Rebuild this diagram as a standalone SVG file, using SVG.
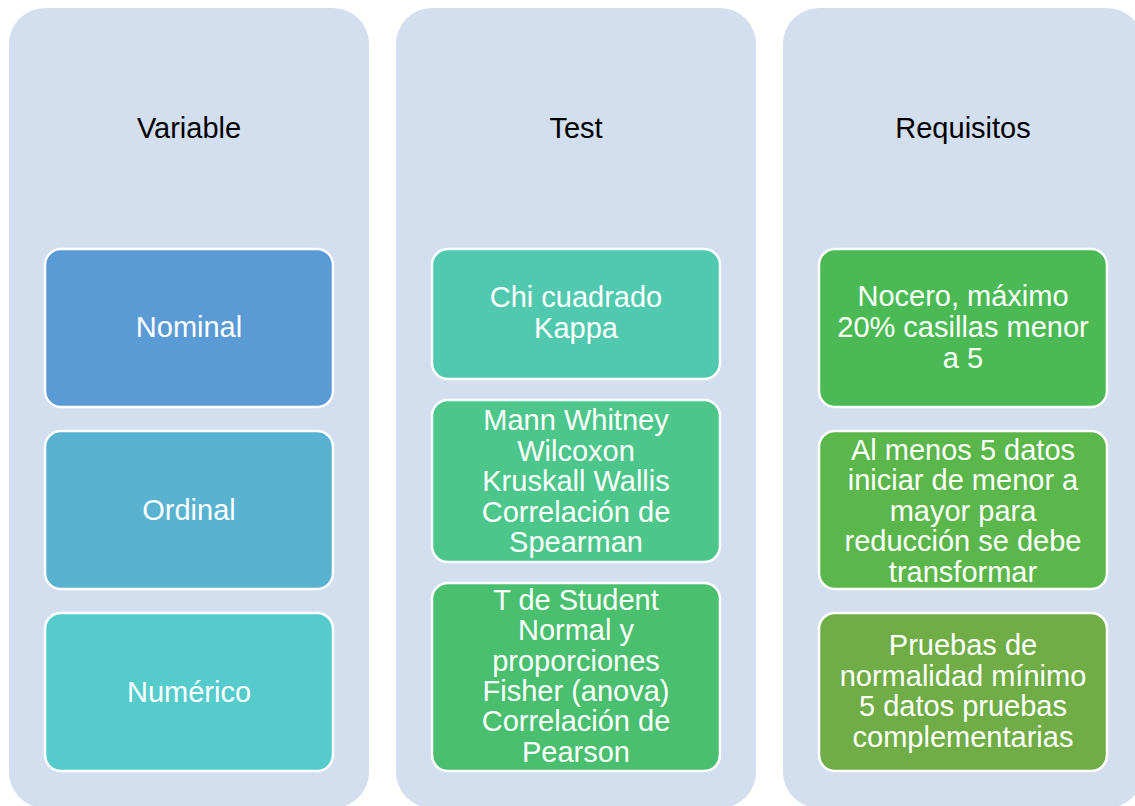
<svg xmlns="http://www.w3.org/2000/svg" width="1135" height="806" viewBox="0 0 1135 806">
<style>
.panel{fill:#D3DEEF}
.box{stroke:#FFFFFF;stroke-width:2.5}
.hdr{font-family:"Liberation Sans",Arial,sans-serif;font-size:29px;fill:#000000;text-anchor:middle}
.lbl{font-family:"Liberation Sans",Arial,sans-serif;font-size:29px;fill:#FFFFFF;text-anchor:middle}
</style>
<rect width="1135" height="806" fill="#FFFFFF"/>
<g id="col-variable">
<rect class="panel" x="9" y="8" width="360" height="800" rx="36"/>
<text class="hdr" x="189" y="138">Variable</text>
</g>
<g id="col-test">
<rect class="panel" x="396" y="8" width="360" height="800" rx="36"/>
<text class="hdr" x="576" y="138">Test</text>
</g>
<g id="col-requisitos">
<rect class="panel" x="783" y="8" width="360" height="800" rx="36"/>
<text class="hdr" x="963" y="138">Requisitos</text>
</g>
<g id="connectors"></g>
<g id="nominal">
<rect class="box" x="45" y="249" width="288" height="158" rx="16" fill="#5B9BD5"/>
<text class="lbl" x="189" y="337">Nominal</text>
</g>
<g id="ordinal">
<rect class="box" x="45" y="431" width="288" height="158" rx="16" fill="#58B2D0"/>
<text class="lbl" x="189" y="520">Ordinal</text>
</g>
<g id="numerico">
<rect class="box" x="45" y="613" width="288" height="158" rx="16" fill="#55CBCC"/>
<text class="lbl" x="189" y="702">Numérico</text>
</g>
<g id="chi">
<rect class="box" x="432" y="249" width="288" height="130" rx="16" fill="#51C9AE"/>
<text class="lbl" x="576" y="307">Chi cuadrado</text>
<text class="lbl" x="576" y="338">Kappa</text>
</g>
<g id="mann">
<rect class="box" x="432" y="400" width="288" height="162" rx="16" fill="#4DC68B"/>
<text class="lbl" x="576" y="430">Mann Whitney</text>
<text class="lbl" x="576" y="460.5">Wilcoxon</text>
<text class="lbl" x="576" y="491">Kruskall Wallis</text>
<text class="lbl" x="576" y="521.5">Correlación de</text>
<text class="lbl" x="576" y="552">Spearman</text>
</g>
<g id="tstudent">
<rect class="box" x="432" y="583" width="288" height="188" rx="16" fill="#4ABF6F"/>
<text class="lbl" x="576" y="610">T de Student</text>
<text class="lbl" x="576" y="640.3">Normal y</text>
<text class="lbl" x="576" y="670.6">proporciones</text>
<text class="lbl" x="576" y="701">Fisher (anova)</text>
<text class="lbl" x="576" y="731.3">Correlación de</text>
<text class="lbl" x="576" y="761.6">Pearson</text>
</g>
<g id="nocero">
<rect class="box" x="819" y="249" width="288" height="158" rx="16" fill="#4BBA55"/>
<text class="lbl" x="963" y="306">Nocero, máximo</text>
<text class="lbl" x="963" y="337">20% casillas menor</text>
<text class="lbl" x="963" y="368">a 5</text>
</g>
<g id="almenos">
<rect class="box" x="819" y="431" width="288" height="158" rx="16" fill="#5BB64B"/>
<text class="lbl" x="963" y="459.5">Al menos 5 datos</text>
<text class="lbl" x="963" y="490">iniciar de menor a</text>
<text class="lbl" x="963" y="520.5">mayor para</text>
<text class="lbl" x="963" y="551">reducción se debe</text>
<text class="lbl" x="963" y="581.5">transformar</text>
</g>
<g id="pruebas">
<rect class="box" x="819" y="613" width="288" height="158" rx="16" fill="#70AD47"/>
<text class="lbl" x="963" y="655">Pruebas de</text>
<text class="lbl" x="963" y="685.5">normalidad mínimo</text>
<text class="lbl" x="963" y="716">5 datos pruebas</text>
<text class="lbl" x="963" y="746.5">complementarias</text>
</g>
</svg>
